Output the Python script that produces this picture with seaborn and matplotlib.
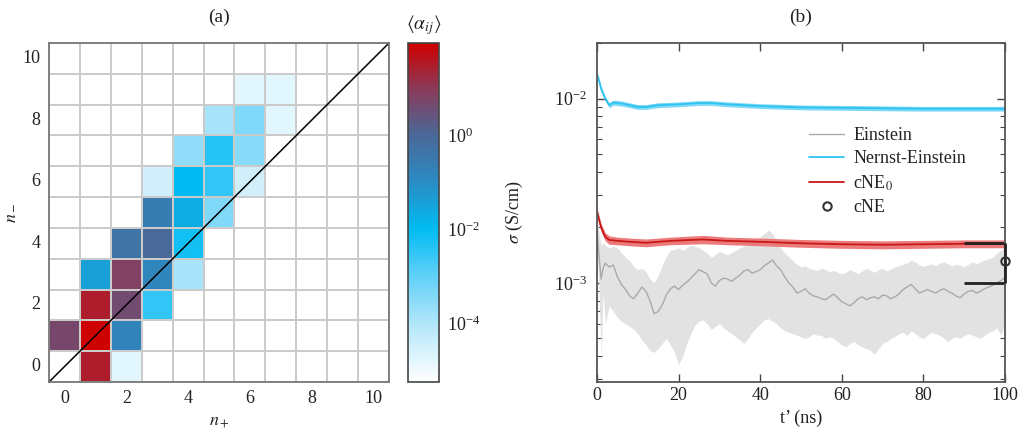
import numpy as np
import pandas as pd
import matplotlib
matplotlib.use("Agg")
import matplotlib.pyplot as plt
import seaborn as sns
from matplotlib.colors import LogNorm, LinearSegmentedColormap

# ---------------- data: panel (a) ----------------
n_plus = [1, 2, 0, 1, 2, 1, 2, 3, 1, 2, 3, 4, 2, 3, 4, 3, 4, 5, 3, 4, 5, 6, 4, 5, 6, 5, 6, 7, 6, 7]
n_minus = [0, 0, 1, 1, 1, 2, 2, 2, 3, 3, 3, 3, 4, 4, 4, 5, 5, 5, 6, 6, 6, 6, 7, 7, 7, 8, 8, 8, 9, 9]
alpha_ij = [28, 1.6e-5, 5.0, 80, 0.16, 28, 4.0, 3.2e-3, 0.04, 7.0, 0.14, 1.3e-4,
            0.5, 0.9, 6.3e-3, 0.25, 0.02, 4e-4, 3.2e-5, 0.01, 3.2e-3, 3.2e-5,
            2.5e-4, 4e-3, 3.2e-4, 1.3e-4, 4e-4, 1.6e-5, 1.6e-5, 1.6e-5]
n_values = list(range(11))
tick_labels_a = ["0", "2", "4", "6", "8", "10"]
cbar_ticks = [1e-4, 1e-2, 1e0]

# ---------------- data: panel (b), sigma in mS/cm ----------------
t_ne = [0, 0.5, 1, 2, 3, 4, 6, 8, 10, 12, 15, 20, 25, 28, 32, 40, 50, 60, 70, 80, 90, 100]
sigma_ne = [13.5, 12.5, 11.3, 10.0, 9.2, 9.5, 9.4, 9.2, 9.0, 9.0, 9.2, 9.3, 9.45, 9.45, 9.3, 9.1,
            8.95, 8.9, 8.85, 8.8, 8.8, 8.8]
ne_lo = [13.1, 12.1, 10.95, 9.7, 8.92, 9.2, 9.1, 8.92, 8.73, 8.73, 8.92, 9.02, 9.17, 9.17, 9.02,
         8.83, 8.68, 8.63, 8.58, 8.54, 8.54, 8.54]
ne_hi = [13.9, 12.9, 11.65, 10.3, 9.48, 9.8, 9.7, 9.48, 9.27, 9.27, 9.48, 9.58, 9.73, 9.73, 9.58,
         9.37, 9.22, 9.17, 9.12, 9.06, 9.06, 9.06]

t_cne0 = [0, 0.5, 1, 2, 3, 5, 8, 12, 18, 26, 32, 40, 50, 60, 70, 80, 90, 100]
sigma_cne0 = [2.43, 2.2, 2.0, 1.78, 1.71, 1.69, 1.67, 1.65, 1.69, 1.72, 1.69, 1.67, 1.64, 1.62,
              1.61, 1.62, 1.63, 1.63]
cne0_lo = [2.31, 2.09, 1.9, 1.69, 1.62, 1.61, 1.59, 1.57, 1.61, 1.63, 1.61, 1.59, 1.56, 1.54,
           1.53, 1.54, 1.55, 1.55]
cne0_hi = [2.55, 2.31, 2.1, 1.87, 1.8, 1.77, 1.75, 1.73, 1.77, 1.81, 1.77, 1.75, 1.72, 1.7,
           1.69, 1.7, 1.71, 1.71]

t_ein = [0, 0.5, 1, 1.5] + list(range(2, 101))
sigma_ein = [1.9, 1.4, 1.05, 1.2,
             1.28, 1.22, 1.25, 1.08, 0.98, 0.92, 0.85, 0.82, 0.88, 0.95,
             0.90, 0.80, 0.68, 0.70, 0.76, 0.86, 0.93, 0.96, 0.92, 0.97,
             1.01, 1.06, 1.12, 1.18, 1.15, 1.12, 1.00, 0.96, 1.03, 1.06,
             1.05, 1.02, 1.06, 1.10, 1.16, 1.18, 1.13, 1.15, 1.18, 1.24,
             1.28, 1.33, 1.24, 1.18, 1.08, 1.00, 0.95, 0.88, 0.90, 0.93,
             0.88, 0.85, 0.84, 0.82, 0.81, 0.84, 0.87, 0.83, 0.79, 0.77,
             0.75, 0.78, 0.82, 0.84, 0.81, 0.83, 0.84, 0.82, 0.86, 0.85,
             0.82, 0.84, 0.87, 0.92, 0.95, 0.98, 0.93, 0.88, 0.90, 0.92,
             0.90, 0.88, 0.91, 0.93, 0.90, 0.88, 0.85, 0.83, 0.87, 0.90,
             0.91, 0.88, 0.90, 0.93, 0.95, 0.97, 1.00, 1.03, 1.07]
ein_hi = [2.3, 1.9, 1.6, 1.65,
          1.60, 1.55, 1.58, 1.55, 1.45, 1.38, 1.32, 1.22, 1.18, 1.20,
          1.15, 1.05, 1.00, 1.10, 1.25, 1.40, 1.50, 1.52, 1.55, 1.50,
          1.55, 1.60, 1.58, 1.55, 1.50, 1.45, 1.38, 1.42, 1.48, 1.45,
          1.42, 1.46, 1.50, 1.55, 1.58, 1.60, 1.65, 1.72, 1.78, 1.85,
          1.93, 1.85, 1.70, 1.55, 1.45, 1.38, 1.32, 1.26, 1.22, 1.24,
          1.20, 1.18, 1.17, 1.20, 1.18, 1.15, 1.17, 1.14, 1.12, 1.14,
          1.18, 1.15, 1.12, 1.16, 1.20, 1.17, 1.14, 1.18, 1.20, 1.16,
          1.19, 1.22, 1.24, 1.26, 1.28, 1.33, 1.30, 1.25, 1.23, 1.25,
          1.27, 1.24, 1.28, 1.30, 1.27, 1.24, 1.26, 1.25, 1.22, 1.26,
          1.30, 1.27, 1.30, 1.33, 1.35, 1.38, 1.45, 1.50, 1.55]
ein_lo = [1.6, 0.9, 0.4, 0.9,
          0.60, 0.75, 0.70, 0.65, 0.62, 0.60, 0.58, 0.56, 0.53, 0.49,
          0.46, 0.43, 0.42, 0.44, 0.47, 0.50, 0.46, 0.42, 0.36, 0.40,
          0.47, 0.53, 0.59, 0.62, 0.63, 0.60, 0.56, 0.58, 0.60, 0.57,
          0.55, 0.53, 0.51, 0.49, 0.47, 0.50, 0.54, 0.57, 0.60, 0.63,
          0.64, 0.62, 0.60, 0.57, 0.55, 0.54, 0.53, 0.52, 0.51, 0.50,
          0.51, 0.53, 0.52, 0.52, 0.50, 0.51, 0.50, 0.48, 0.46, 0.45,
          0.47, 0.48, 0.46, 0.45, 0.44, 0.43, 0.41, 0.44, 0.47, 0.48,
          0.50, 0.51, 0.53, 0.54, 0.52, 0.55, 0.53, 0.51, 0.50, 0.52,
          0.54, 0.53, 0.52, 0.50, 0.48, 0.50, 0.51, 0.50, 0.52, 0.53,
          0.52, 0.51, 0.50, 0.52, 0.54, 0.55, 0.57, 0.52, 0.60]

t_cne = [100]
sigma_cne = [1.31]
cne_err_lo = [0.31]
cne_err_hi = [0.33]

mS = 1e-3  # mS/cm -> S/cm

# ---------------- style ----------------
sns.set_theme(style="ticks")
plt.rcParams["font.family"] = ["Liberation Serif", "DejaVu Serif"]
plt.rcParams["mathtext.fontset"] = "stix"
plt.rcParams["font.size"] = 13
plt.rcParams["axes.labelsize"] = 13
plt.rcParams["xtick.labelsize"] = 13
plt.rcParams["ytick.labelsize"] = 13
plt.rcParams["text.color"] = "#222222"
plt.rcParams["axes.labelcolor"] = "#222222"
plt.rcParams["xtick.color"] = "#444444"
plt.rcParams["ytick.color"] = "#444444"
plt.rcParams["xtick.labelcolor"] = "#222222"
plt.rcParams["ytick.labelcolor"] = "#222222"

W, H = 1020, 432
fig = plt.figure(figsize=(W / 100, H / 100), dpi=100)
bottom = 1 - 382 / H
height = 339 / H
ax = fig.add_axes([49 / W, bottom, 340 / W, height])
cax = fig.add_axes([408 / W, bottom, 31 / W, height])
ax2 = fig.add_axes([597 / W, bottom, 408 / W, height])

# ---------------- panel (a) ----------------
lmin, lmax = -5.25, 1.95
def pos(l):
    return (l - lmin) / (lmax - lmin)
cmap = LinearSegmentedColormap.from_list("alpha", [
    (0.0, "#ffffff"),
    (pos(-4), "#b0e6fa"),
    (pos(-3), "#60d0f8"),
    (pos(-2), "#00bcf2"),
    (pos(-1), "#2a8cc4"),
    (pos(0), "#4a6898"),
    (pos(1), "#8a3a58"),
    (1.0, "#d00000"),
])

grid = pd.DataFrame(np.nan, index=n_values, columns=n_values)
for p, m, a in zip(n_plus, n_minus, alpha_ij):
    grid.loc[m, p] = a

sns.heatmap(grid, ax=ax, cmap=cmap, norm=LogNorm(vmin=10 ** lmin, vmax=10 ** lmax),
            linewidths=1.3, linecolor="#cbcbcb", cbar_ax=cax)
ax.invert_yaxis()
ax.set_xticks(np.arange(12), minor=True)
ax.set_yticks(np.arange(12), minor=True)
ax.grid(which="minor", color="#cbcbcb", lw=1.3)
ax.grid(which="major", visible=False)
ax.set_axisbelow(True)
ax.set_xticks(np.arange(0, 11, 2) + 0.5)
ax.set_xticklabels(tick_labels_a, rotation=0)
ax.set_yticks(np.arange(0, 11, 2) + 0.5)
ax.set_yticklabels(tick_labels_a, rotation=0)
ax.tick_params(which="both", length=0, pad=6)
for s in ax.spines.values():
    s.set_visible(True)
    s.set_color("#777777")
    s.set_linewidth(1.3)
ax.plot([0, 1], [0, 1], transform=ax.transAxes, color="black", lw=1.1)
ax.set_xlabel(r"$n_+$")
ax.set_ylabel(r"$n_-$")
ax.yaxis.set_label_coords(-0.09, 0.5)

cbar = ax.collections[0].colorbar
cbar.set_ticks(cbar_ticks)
cbar.ax.minorticks_off()
cax.tick_params(which="major", direction="in", left=True, right=True, length=7,
                color="#bbbbbb", width=1, labelsize=13, pad=6)
cbar.outline.set_edgecolor("#444444")
cbar.outline.set_linewidth(1.2)
cax.set_title(r"$\langle\alpha_{ij}\rangle$", fontsize=14, pad=10)

# ---------------- panel (b) ----------------
ax2.set_yscale("log")
ax2.fill_between(np.array(t_ein), np.array(ein_lo) * mS, np.array(ein_hi) * mS,
                 color="#e2e2e2", lw=0)
sns.lineplot(x=t_ein, y=np.array(sigma_ein) * mS, ax=ax2, color="#aaaaaa", lw=1.0,
             label="Einstein")
ax2.fill_between(np.array(t_ne), np.array(ne_lo) * mS, np.array(ne_hi) * mS,
                 color="#7fd9f7", lw=0)
sns.lineplot(x=t_ne, y=np.array(sigma_ne) * mS, ax=ax2, color="#2ec3f0", lw=1.3,
             label="Nernst-Einstein")
ax2.fill_between(np.array(t_cne0), np.array(cne0_lo) * mS, np.array(cne0_hi) * mS,
                 color="#ec7a7a", lw=0)
sns.lineplot(x=t_cne0, y=np.array(sigma_cne0) * mS, ax=ax2, color="#c81818", lw=1.3,
             label=r"cNE$_0$")
eb = ax2.errorbar(t_cne, np.array(sigma_cne) * mS,
                  yerr=[np.array(cne_err_lo) * mS, np.array(cne_err_hi) * mS],
                  fmt="none", ecolor="#222222", elinewidth=2.0, capsize=29.5, capthick=2)
for col in eb[2]:
    col.set_clip_on(False)
    col.set_zorder(4)
ax2.plot(t_cne, np.array(sigma_cne) * mS, "o", mfc="none", mec="#333333", mew=1.5, ms=6,
         clip_on=False, label="cNE", zorder=5)

ax2.set_xlim(0, 100)
ax2.set_ylim(2.9e-4, 2.0e-2)
ax2.set_xticks([0, 20, 40, 60, 80, 100])
ax2.tick_params(which="both", direction="in", top=True, right=True)
ax2.tick_params(which="major", length=6, width=1)
ax2.tick_params(axis="y", which="major", pad=7)
ax2.tick_params(which="minor", length=3.5, width=0.8)
ax2.tick_params(axis="x", which="minor", length=0)
for s in ax2.spines.values():
    s.set_color("#555555")
    s.set_linewidth(1.3)
ax2.set_xlabel("t’ (ns)")
ax2.set_ylabel(r"$\sigma$ (S/cm)")
ax2.yaxis.set_label_coords(-0.176, 0.5)
ax2.legend(loc="upper left", bbox_to_anchor=(0.48, 0.8), frameon=False, fontsize=13,
           handlelength=1.95, labelspacing=0.35, handletextpad=0.5)

fig.text(219 / W, 1 - 17 / H, "(a)", ha="center", va="center", fontsize=14)
fig.text(801 / W, 1 - 17 / H, "(b)", ha="center", va="center", fontsize=14)

fig.savefig("out.png", dpi=100)
